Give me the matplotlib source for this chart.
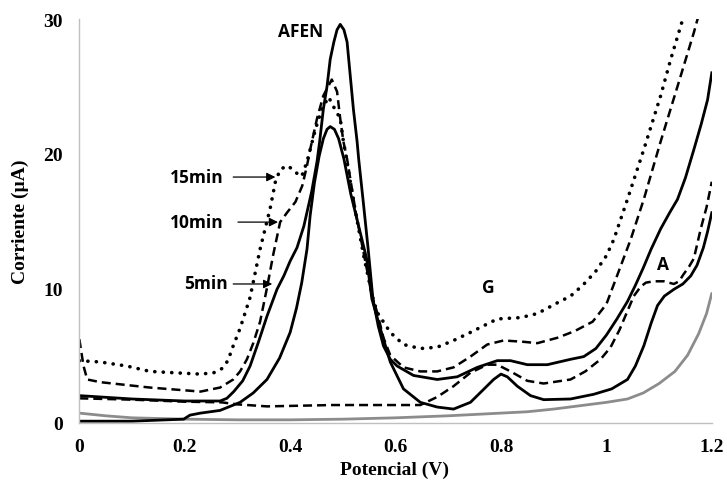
import matplotlib
matplotlib.use("Agg")
import matplotlib.pyplot as plt

# ---- data ----
# 15 min (dotted)
v_15 = [0, .04, .09, .134, .18, .23, .255, .27, .282, .29, .305, .324, .343, .362, .372, .381,
        .394, .406, .416, .422, .432, .438, .448, .46, .473, .482, .495, .501, .507, .52, .54,
        .556, .565, .59, .615, .647, .679, .71, .742, .793, .837, .869, .907, .932, .955, .979,
        1.0, 1.014, 1.04, 1.071, 1.103, 1.122, 1.145, 1.16]
i_15 = [4.6, 4.5, 4.2, 3.8, 3.7, 3.6, 3.7, 4.0, 4.6, 5.5, 7.0, 9.3, 12.9, 15.9, 17.9, 18.8,
        19.1, 18.8, 18.4, 18.3, 19.4, 20.3, 21.8, 23.3, 24.2, 23.5, 22.6, 20.9, 19.6, 16.5, 12.3,
        9.4, 8.2, 6.7, 5.8, 5.5, 5.6, 6.1, 6.7, 7.7, 7.8, 8.1, 8.9, 9.4, 10.2, 11.2,
        12.4, 13.6, 16.6, 20.3, 24.3, 27.0, 30.0, 32.0]

# 10 min (dashed)
v_10 = [0, .004, .008, .015, .04, .134, .23, .267, .292, .305, .318, .33, .343, .356, .368, .381,
        .394, .41, .423, .432, .438, .451, .463, .479, .489, .495, .501, .508, .525, .545, .557,
        .565, .577, .59, .615, .647, .679, .71, .742, .774, .805, .843, .869, .907, .94, .974,
        1.0, 1.023, 1.046, 1.071, 1.103, 1.135, 1.166, 1.18]
i_10 = [6.2, 5.2, 4.2, 3.2, 3.0, 2.6, 2.3, 2.6, 3.2, 3.8, 4.7, 5.9, 7.5, 10.0, 12.5, 14.9,
        15.6, 16.4, 17.6, 19.1, 20.3, 22.6, 24.3, 25.5, 24.6, 22.6, 20.9, 19.6, 15.5, 11.5, 9.2,
        8.2, 6.3, 5.0, 4.1, 3.8, 3.8, 4.1, 4.9, 5.8, 6.1, 6.0, 5.9, 6.3, 6.8, 7.5,
        8.8, 11.2, 13.6, 16.6, 20.9, 25.0, 29.0, 31.0]

# 5 min (solid, shoulder, main AFEN peak)
v_5 = [0, .1, .2, .267, .28, .293, .31, .324, .34, .356, .375, .388, .4, .413, .426, .441,
       .451, .456, .463, .47, .476, .483, .489, .495, .502, .508, .514, .52, .527, .53, .539,
       .548, .557, .567, .577, .59, .603, .634, .679, .717, .755, .793, .818, .85, .888, .932,
       .957, .98, 1.0, 1.02, 1.04, 1.055, 1.07, 1.085, 1.103, 1.12, 1.135, 1.15, 1.166, 1.18,
       1.192, 1.2]
i_5 = [2.0, 1.75, 1.6, 1.6, 1.8, 2.3, 3.1, 4.2, 6.0, 7.9, 9.9, 10.9, 12.0, 13.0, 14.6, 17.2,
       19.4, 20.9, 23.3, 25.0, 27.0, 28.3, 29.2, 29.6, 29.2, 28.3, 25.8, 23.3, 20.9, 19.6, 16.3,
       12.9, 9.2, 7.2, 5.7, 4.7, 4.2, 3.5, 3.2, 3.4, 4.1, 4.6, 4.6, 4.3, 4.3, 4.7,
       4.9, 5.5, 6.5, 7.7, 9.0, 10.2, 11.5, 12.9, 14.4, 15.6, 16.6, 18.2, 20.3, 22.2,
       24.0, 26.0]

# solid with low baseline (second AFEN peak and G peak)
v_s2 = [0, .1, .198, .21, .23, .267, .305, .33, .356, .38, .4, .412, .422, .432, .438, .446,
        .455, .463, .47, .476, .484, .492, .502, .515, .53, .545, .555, .571, .59, .615, .647,
        .679, .71, .742, .768, .786, .8, .812, .831, .856, .881, .932, .976, 1.01, 1.04, 1.055,
        1.071, 1.085, 1.097, 1.11, 1.128, 1.145, 1.16, 1.172, 1.184, 1.192, 1.2]
i_s2 = [0.1, 0.1, 0.25, 0.55, 0.7, 0.9, 1.5, 2.2, 3.2, 4.8, 6.7, 8.5, 10.4, 12.9, 15.4, 17.8,
        19.8, 21.1, 21.8, 22.0, 21.8, 21.1, 19.6, 17.0, 14.6, 12.2, 9.2, 7.0, 4.5, 2.5, 1.5,
        1.15, 1.0, 1.5, 2.5, 3.2, 3.6, 3.4, 2.7, 2.0, 1.7, 1.75, 2.1, 2.5, 3.2, 4.2,
        5.7, 7.4, 8.7, 9.4, 9.9, 10.3, 10.9, 11.7, 13.0, 14.2, 15.6]

# flat dashed
v_d2 = [0, .1, .2, .27, .3, .356, .48, .55, .647, .679, .71, .742, .774, .793, .818, .85, .881,
        .932, .96, .989, 1.008, 1.025, 1.039, 1.052, 1.065, 1.075, 1.09, 1.109, 1.128, 1.138,
        1.146, 1.157, 1.166, 1.179, 1.19, 1.2]
i_d2 = [1.8, 1.7, 1.55, 1.5, 1.35, 1.2, 1.3, 1.3, 1.3, 1.9, 2.7, 3.7, 4.3, 4.3, 3.8, 3.1, 2.9,
        3.2, 3.8, 4.7, 5.6, 6.9, 8.2, 9.4, 10.1, 10.4, 10.5, 10.5, 10.3, 10.5,
        11.0, 11.6, 12.2, 14.4, 16.0, 17.9]

# gray baseline
v_g = [0, .05, .1, .2, .3, .4, .5, .6, .7, .8, .85, .9, .95, 1.0, 1.04, 1.07, 1.1, 1.13,
       1.154, 1.175, 1.19, 1.2]
i_g = [0.7, 0.5, 0.35, 0.25, 0.2, 0.2, 0.25, 0.35, 0.5, 0.7, 0.8, 1.0, 1.25, 1.5, 1.75, 2.2,
       2.9, 3.8, 5.0, 6.6, 8.1, 9.6]

x_ticks = [0, 0.2, 0.4, 0.6, 0.8, 1.0, 1.2]
x_tick_labels = ["0", "0.2", "0.4", "0.6", "0.8", "1", "1.2"]
y_ticks = [0, 10, 20, 30]
y_tick_labels = ["0", "10", "20", "30"]

# ---- figure ----
fig = plt.figure(figsize=(7.27, 4.89), dpi=100)
ax = fig.add_axes([0.1091, 0.1339, 0.870, 0.8252])

ax.plot(v_g, i_g, color="#8c8c8c", lw=2.0, solid_capstyle="round", solid_joinstyle="round")
ax.plot(v_d2, i_d2, color="black", lw=1.8, linestyle=(0, (3.6, 2.0)))
ax.plot(v_s2, i_s2, color="black", lw=2.0, solid_joinstyle="round")
ax.plot(v_5, i_5, color="black", lw=2.0, solid_joinstyle="round")
ax.plot(v_10, i_10, color="black", lw=1.8, linestyle=(0, (3.6, 2.0)))
ax.plot(v_15, i_15, color="black", lw=2.6, linestyle=(0, (0.05, 2.3)), dash_capstyle="round")

ax.set_xlim(0, 1.2)
ax.set_ylim(0, 30)
ax.set_xticks(x_ticks)
ax.set_xticklabels(x_tick_labels)
ax.set_yticks(y_ticks)
ax.set_yticklabels(y_tick_labels)

for s in ["top", "right"]:
    ax.spines[s].set_visible(False)
for s in ["left", "bottom"]:
    ax.spines[s].set_color("#bfbfbf")
    ax.spines[s].set_linewidth(1.0)

ax.tick_params(axis="both", length=0)
ax.tick_params(axis="x", pad=11)
ax.tick_params(axis="y", pad=12)
for lab in ax.get_xticklabels() + ax.get_yticklabels():
    lab.set_fontfamily("Liberation Serif")
    lab.set_fontweight("bold")
    lab.set_fontsize(14)

ax.set_xlabel("Potencial (V)", fontfamily="Liberation Serif", fontweight="bold", fontsize=14)
ax.set_ylabel("Corriente (µA)", fontfamily="Liberation Serif", fontweight="bold", fontsize=14)
ax.xaxis.set_label_coords(0.499, -0.115)
ax.yaxis.set_label_coords(-0.094, 0.5)
ax.xaxis.label.set_va("center")
ax.yaxis.label.set_va("center")

ann = dict(fontfamily="Open Sans", fontweight="bold", fontsize=12.5, ha="center", va="center")
ax.text(0.419, 29.1, "AFEN", **ann)
ax.text(0.776, 10.1, "G", **ann)
ax.text(1.107, 11.8, "A", **ann)
ax.text(0.2236, 18.25, "15min", **ann)
ax.text(0.2236, 14.9, "10min", **ann)
ax.text(0.2406, 10.4, "5min", **ann)

arrow = dict(arrowstyle="-|>", color="black", lw=0.9, mutation_scale=13, shrinkA=0, shrinkB=0)
ax.annotate("", xy=(0.372, 18.25), xytext=(0.292, 18.25), arrowprops=arrow)
ax.annotate("", xy=(0.377, 14.9), xytext=(0.301, 14.9), arrowprops=arrow)
ax.annotate("", xy=(0.366, 10.3), xytext=(0.292, 10.3), arrowprops=arrow)

fig.savefig("out.png", dpi=100)
